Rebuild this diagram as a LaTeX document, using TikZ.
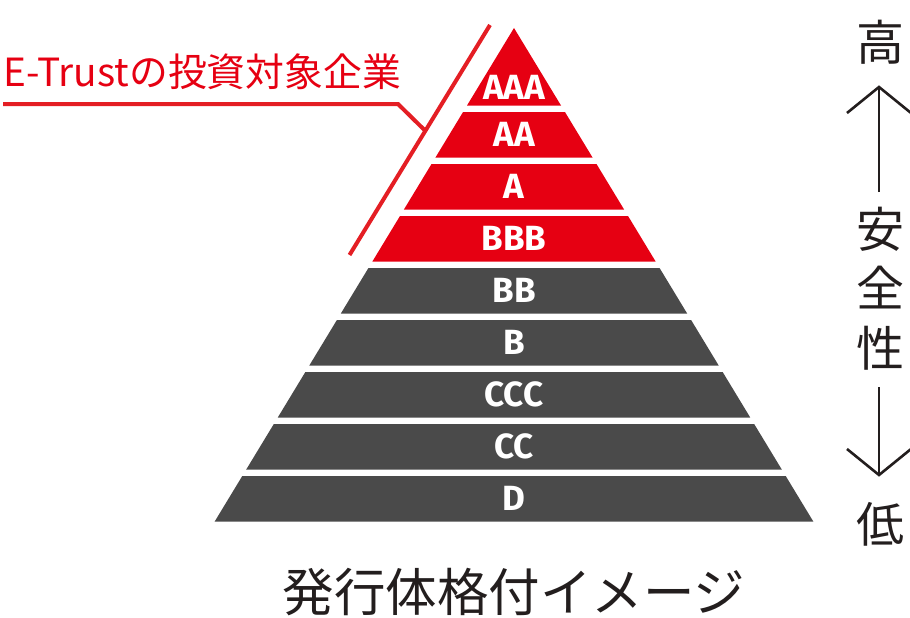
\documentclass[tikz,border=0pt]{standalone}
\usepackage{fontspec}
\newfontfamily\jp{Noto Sans CJK JP}
\newfontfamily\bandfont{Fira Sans}
\definecolor{pyred}{RGB}{230,0,18}
\definecolor{lnred}{RGB}{228,30,36}
\definecolor{pygrey}{RGB}{74,74,74}
\definecolor{inkc}{RGB}{35,30,30}
\tikzset{
  bandlabel/.style={text=white, inner sep=0pt, font=\bandfont\bfseries\fontsize{35}{35}\selectfont},
  sidechar/.style={text=inkc, inner sep=0pt, font=\jp\fontsize{48}{48}\selectfont},
  sidearrow/.style={draw=inkc, line width=2.6pt, line cap=butt, line join=miter},
  callout/.style={draw=lnred, line width=4pt, line join=miter}
}
\begin{document}
\begin{tikzpicture}[x=1pt,y=-1pt]
\useasboundingbox (0,0) rectangle (910,618);
% pyramid bands
\foreach \i/\lab/\col in {0/AAA/pyred,1/AA/pyred,2/A/pyred,3/BBB/pyred,4/BB/pygrey,5/B/pygrey,6/CCC/pygrey,7/CC/pygrey,8/D/pygrey}{
  \pgfmathsetmacro\yb{105.5+52*\i}
  \pgfmathsetmacro\yt{\i==0 ? 28 : 105.5+52*(\i-1)+6.5}
  \pgfmathsetmacro\kb{0.6065*(\yb-28)}
  \pgfmathsetmacro\kt{0.6065*(\yt-28)}
  \pgfmathsetmacro\yc{\i==0 ? 87 : (\yt+\yb)/2}
  \fill[\col] (514-\kt,\yt) -- (514+\kt,\yt) -- (514+\kb,\yb) -- (514-\kb,\yb) -- cycle;
  \node[bandlabel] (band\i) at (514,\yc) {\lab};
}
% callout
\coordinate (dtop) at (490,25);
\coordinate (dbot) at (349.5,255);
\draw[callout] (dtop) -- (dbot);
\node[anchor=base west, text=pyred, inner sep=0pt, font=\jp\fontsize{38.8}{38.8}\selectfont] (lbl) at (3,86) {E-Trustの投資対象企業};
\coordinate (cstart) at (3,104);
\coordinate (cbend) at (398,104);
\coordinate (cend) at (425.5,131);
\draw[callout] (cstart) -- (cbend) -- (cend);
% safety scale
\node[sidechar] (hi) at (880,42) {高};
\node[sidechar] (an) at (880,229) {安};
\node[sidechar] (zen) at (880,288) {全};
\node[sidechar] (sei) at (880,348) {性};
\node[sidechar] (lo) at (880,524) {低};
\coordinate (upTip) at (879,87);
\coordinate (upEnd) at (879,192);
\coordinate (upL) at (847,113);
\coordinate (upR) at (911,113);
\draw[sidearrow] (upEnd) -- (upTip);
\draw[sidearrow] (upL) -- (upTip) -- (upR);
\coordinate (dnTip) at (879,475);
\coordinate (dnEnd) at (879,387);
\coordinate (dnL) at (847,449);
\coordinate (dnR) at (911,449);
\draw[sidearrow] (dnEnd) -- (dnTip);
\draw[sidearrow] (dnL) -- (dnTip) -- (dnR);
% caption
\node[text=inkc, inner sep=0pt, font=\jp\fontsize{51.5}{51.5}\selectfont] (cap) at (514,592) {発行体格付イメージ};
\end{tikzpicture}
\end{document}
